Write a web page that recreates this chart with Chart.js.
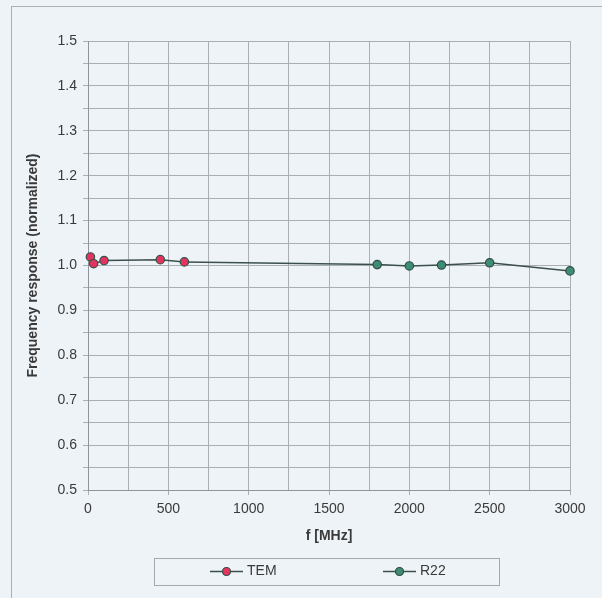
<!DOCTYPE html>
<html>
<head>
<meta charset="utf-8">
<script src="https://cdn.jsdelivr.net/npm/chart.js@4.4.1/dist/chart.umd.min.js"></script>
<style>
  html, body { margin: 0; padding: 0; background: #eef3f7; }
  #wrap { width: 602px; height: 598px; }
</style>
</head>
<body>
<div id="wrap"><canvas id="chart" width="602" height="598"></canvas></div>
<script>
const temFreq = [15, 35, 100, 450, 600];
const temResp = [1.019, 1.004, 1.011, 1.013, 1.008];
const r22Freq = [1800, 2000, 2200, 2500, 3000];
const r22Resp = [1.002, 0.999, 1.001, 1.006, 0.988];
const seriesNames = ["TEM", "R22"];

const lineColor = "#3b504c";
const temFill = "#e2345e";
const r22Fill = "#3f8c74";
const textColor = "#3a3a3a";
const gridColor = "#a9afb4";
const font = "'Liberation Sans', Arial, sans-serif";

const toPoints = (xs, ys) => xs.map((x, i) => ({ x: x, y: ys[i] }));

// background + outer frame
const framePlugin = {
    id: "frame",
    beforeDraw(chart) {
        const ctx = chart.ctx;
        ctx.save();
        ctx.fillStyle = "#eef3f7";
        ctx.fillRect(0, 0, chart.width, chart.height);
        ctx.strokeStyle = "#a9b1b8";
        ctx.lineWidth = 1;
        ctx.strokeRect(11.5, 6.5, 800, 800);
        ctx.restore();
    },
};

// boxed legend under the axis title, like the original
const legendPlugin = {
    id: "boxLegend",
    afterDraw(chart) {
        const ctx = chart.ctx;
        ctx.save();
        ctx.strokeStyle = "#a4a8ac";
        ctx.lineWidth = 1;
        ctx.strokeRect(154.5, 558.5, 345, 27);
        const items = [
            { x: 210, ds: chart.data.datasets[0] },
            { x: 383, ds: chart.data.datasets[1] },
        ];
        const y = 571.5;
        items.forEach((it) => {
            ctx.strokeStyle = lineColor;
            ctx.lineWidth = 1.5;
            ctx.beginPath();
            ctx.moveTo(it.x, y);
            ctx.lineTo(it.x + 33, y);
            ctx.stroke();
            ctx.beginPath();
            ctx.arc(it.x + 16.5, y, 4, 0, Math.PI * 2);
            ctx.fillStyle = it.ds.pointBackgroundColor;
            ctx.fill();
            ctx.lineWidth = 1.2;
            ctx.strokeStyle = it.ds.pointBorderColor;
            ctx.stroke();
            ctx.fillStyle = textColor;
            ctx.font = "14px " + font;
            ctx.textBaseline = "middle";
            ctx.fillText(it.ds.label, it.x + 37, y);
        });
        ctx.restore();
    },
};

new Chart(document.getElementById("chart"), {
    type: "scatter",
    data: {
        datasets: [
            {
                label: seriesNames[0],
                data: toPoints(temFreq, temResp),
                showLine: true,
                clip: false,
                borderColor: lineColor,
                borderWidth: 1.5,
                pointBackgroundColor: temFill,
                pointBorderColor: "#34514a",
                pointBorderWidth: 1.2,
                pointRadius: 4.2,
                order: 1,
            },
            {
                label: seriesNames[1],
                data: toPoints(r22Freq, r22Resp),
                showLine: true,
                clip: false,
                borderColor: lineColor,
                borderWidth: 1.5,
                pointBackgroundColor: r22Fill,
                pointBorderColor: "#2e4d45",
                pointBorderWidth: 1.2,
                pointRadius: 4.2,
                order: 1,
            },
            {
                // joins the two series, as in the source plot
                label: "link",
                data: [
                    { x: temFreq[temFreq.length - 1], y: temResp[temResp.length - 1] },
                    { x: r22Freq[0], y: r22Resp[0] },
                ],
                showLine: true,
                borderColor: lineColor,
                borderWidth: 1.5,
                pointRadius: 0,
                order: 2,
            },
        ],
    },
    options: {
        responsive: false,
        animation: false,
        layout: { padding: { left: 11, right: 32, top: 41, bottom: 48 } },
        plugins: {
            legend: { display: false },
            tooltip: { enabled: false },
        },
        scales: {
            x: {
                type: "linear",
                min: 0,
                max: 3000,
                afterFit(scale) { scale.height = 60; },
                ticks: {
                    stepSize: 250,
                    autoSkip: false,
                    maxRotation: 0,
                    padding: 6,
                    color: textColor,
                    font: { family: font, size: 14 },
                    callback: (v) => (v % 500 === 0 ? String(v) : ""),
                },
                grid: {
                    color: gridColor,
                    tickLength: 5,
                    tickColor: (c) => (c.tick && c.tick.value % 500 === 0 ? gridColor : "rgba(0,0,0,0)"),
                },
                border: { color: "#8f959a" },
                title: {
                    display: true,
                    text: "f [MHz]",
                    color: textColor,
                    font: { family: font, size: 14, weight: "bold" },
                    padding: { top: 0, bottom: 5 },
                },
            },
            y: {
                min: 0.5,
                max: 1.5,
                afterFit(scale) { scale.width = 77; },
                ticks: {
                    stepSize: 0.05,
                    autoSkip: false,
                    padding: 6,
                    color: textColor,
                    font: { family: font, size: 14 },
                    callback: (v) => {
                        const r = Math.round(v * 100);
                        return r % 10 === 0 ? (r / 100).toFixed(1) : "";
                    },
                },
                grid: { color: gridColor, tickLength: 5 },
                border: { color: "#8f959a" },
                title: {
                    display: true,
                    text: "Frequency response (normalized)",
                    color: textColor,
                    font: { family: font, size: 14, weight: "bold" },
                    padding: { top: 14, bottom: 0 },
                },
            },
        },
    },
    plugins: [framePlugin, legendPlugin],
});
</script>
</body>
</html>
